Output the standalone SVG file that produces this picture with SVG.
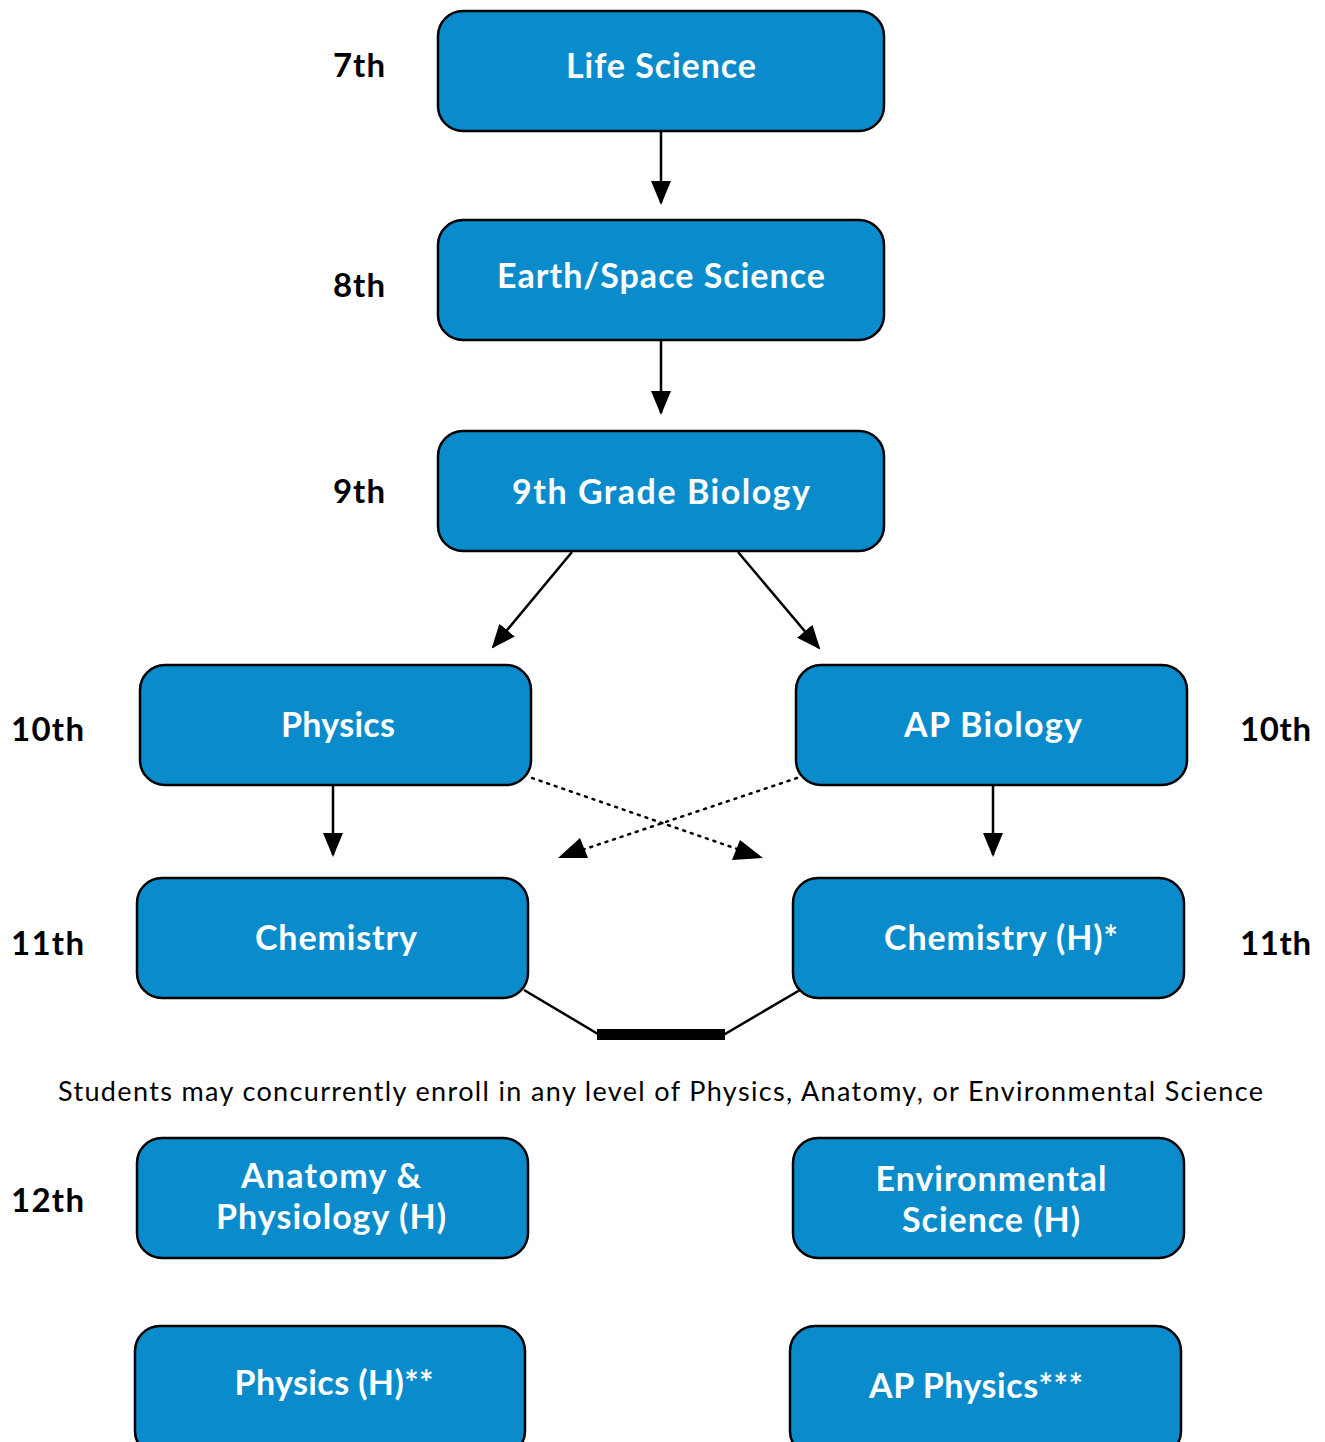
<svg xmlns="http://www.w3.org/2000/svg" width="1325" height="1442" viewBox="0 0 1325 1442">
<style>
.box{fill:#0a8ccc;stroke:#000;stroke-width:2.5}
.bt{font-family:Lato,"Open Sans",sans-serif;font-weight:bold;font-size:34px;fill:#fff;text-anchor:middle}
.gl{font-family:Lato,"Open Sans",sans-serif;font-weight:bold;font-size:33px;fill:#000}
.cap{font-family:Lato,"Open Sans",sans-serif;font-size:27px;fill:#000}
.ln{stroke:#000;stroke-width:2.5;fill:none}
.dot{stroke:#000;stroke-width:2.5;fill:none;stroke-dasharray:2 6;stroke-linecap:round}
</style>
<defs>
<marker id="ah" markerWidth="24" markerHeight="20" refX="22" refY="10" orient="auto" markerUnits="userSpaceOnUse">
<path d="M0,0 L24,10 L0,20 Z" fill="#000"/>
</marker>
</defs>
<rect width="1325" height="1442" fill="#fff"/>
<g id="connectors">
<line class="ln" x1="661" y1="132" x2="661" y2="203" marker-end="url(#ah)"/>
<line class="ln" x1="661" y1="341" x2="661" y2="413" marker-end="url(#ah)"/>
<line class="ln" x1="572" y1="552" x2="493" y2="647" marker-end="url(#ah)"/>
<line class="ln" x1="738" y1="552" x2="819" y2="648" marker-end="url(#ah)"/>
<line class="ln" x1="333" y1="786" x2="333" y2="855" marker-end="url(#ah)"/>
<line class="ln" x1="993" y1="786" x2="993" y2="855" marker-end="url(#ah)"/>
<line class="dot" x1="532" y1="778" x2="740" y2="850"/>
<path d="M763,858 L732,860 L740,840 Z" fill="#000"/>
<line class="dot" x1="797" y1="778" x2="582" y2="850"/>
<path d="M558,858 L580,838 L588,858 Z" fill="#000"/>
<polyline class="ln" points="524,990 598,1034 725,1034 800,990"/>
<rect x="597" y="1029" width="128" height="11" fill="#000"/>
</g>
<g id="life-science"><rect class="box" x="438" y="11" width="446" height="120" rx="25"/><text class="bt" x="661" y="78" textLength="190" lengthAdjust="spacing">Life Science</text></g>
<g id="earth-space"><rect class="box" x="438" y="220" width="446" height="120" rx="25"/><text class="bt" x="661" y="288" textLength="328" lengthAdjust="spacing">Earth/Space Science</text></g>
<g id="bio9"><rect class="box" x="438" y="431" width="446" height="120" rx="25"/><text class="bt" x="661" y="504" textLength="298" lengthAdjust="spacing">9th Grade Biology</text></g>
<g id="physics"><rect class="box" x="140" y="665" width="391" height="120" rx="25"/><text class="bt" x="338" y="737" textLength="114" lengthAdjust="spacing">Physics</text></g>
<g id="ap-biology"><rect class="box" x="796" y="665" width="391" height="120" rx="25"/><text class="bt" x="993" y="737" textLength="178" lengthAdjust="spacing">AP Biology</text></g>
<g id="chemistry"><rect class="box" x="137" y="878" width="391" height="120" rx="25"/><text class="bt" x="336" y="950" textLength="162" lengthAdjust="spacing">Chemistry</text></g>
<g id="chemistry-h"><rect class="box" x="793" y="878" width="391" height="120" rx="25"/><text class="bt" x="1001" y="950" textLength="234" lengthAdjust="spacing">Chemistry (H)*</text></g>
<g id="anatomy"><rect class="box" x="137" y="1138" width="391" height="120" rx="25"/><text class="bt" x="331" y="1188" textLength="180" lengthAdjust="spacing">Anatomy &amp;</text><text class="bt" x="331" y="1229" textLength="230" lengthAdjust="spacing">Physiology (H)</text></g>
<g id="environmental"><rect class="box" x="793" y="1138" width="391" height="120" rx="25"/><text class="bt" x="991" y="1191" textLength="231" lengthAdjust="spacing">Environmental</text><text class="bt" x="991" y="1232" textLength="178" lengthAdjust="spacing">Science (H)</text></g>
<g id="physics-h"><rect class="box" x="135" y="1326" width="390" height="130" rx="25"/><text class="bt" x="334" y="1395" textLength="199" lengthAdjust="spacing">Physics (H)**</text></g>
<g id="ap-physics"><rect class="box" x="790" y="1326" width="391" height="130" rx="25"/><text class="bt" x="976" y="1398" textLength="214" lengthAdjust="spacing">AP Physics***</text></g>
<g id="labels">
<text class="gl" x="333" y="77" textLength="52" lengthAdjust="spacing">7th</text>
<text class="gl" x="333" y="297" textLength="52" lengthAdjust="spacing">8th</text>
<text class="gl" x="333" y="503" textLength="52" lengthAdjust="spacing">9th</text>
<text class="gl" x="11" y="741" textLength="73" lengthAdjust="spacing">10th</text>
<text class="gl" x="1240" y="741" textLength="71" lengthAdjust="spacing">10th</text>
<text class="gl" x="11" y="955" textLength="73" lengthAdjust="spacing">11th</text>
<text class="gl" x="1240" y="955" textLength="71" lengthAdjust="spacing">11th</text>
<text class="gl" x="11" y="1212" textLength="73" lengthAdjust="spacing">12th</text>
<text class="cap" x="58" y="1101" textLength="1205" lengthAdjust="spacing">Students may concurrently enroll in any level of Physics, Anatomy, or Environmental Science</text>
</g>
</svg>
